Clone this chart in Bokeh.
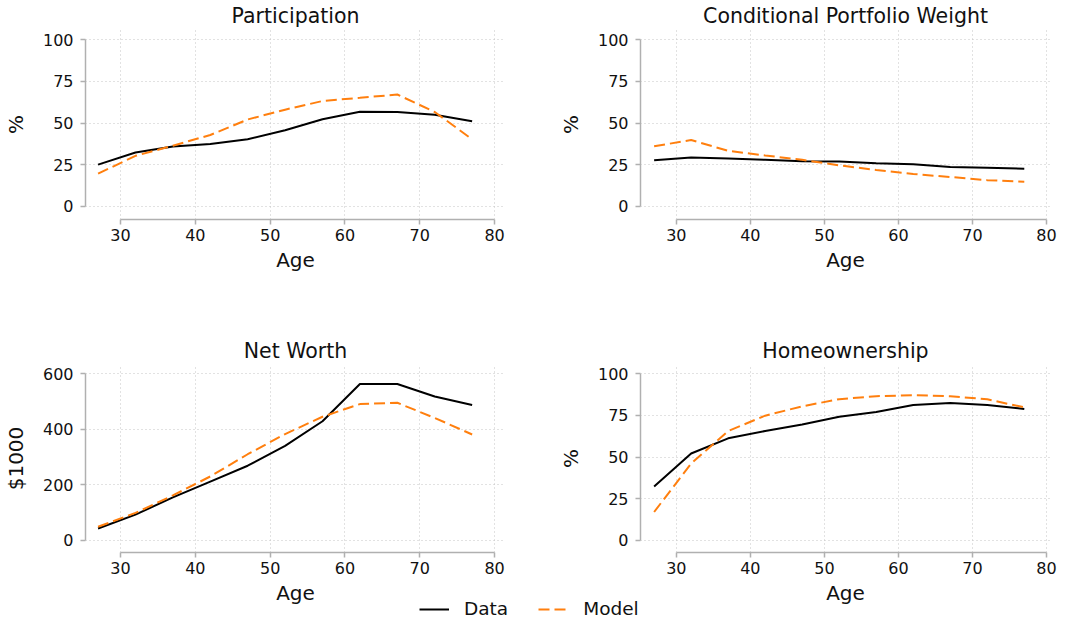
from bokeh.plotting import figure
from bokeh.layouts import column, row
from bokeh.models import Range1d, FixedTicker, Legend, LegendItem
from bokeh.embed import file_html
from bokeh.resources import INLINE

# ---------------- data ----------------
ages = [27, 32, 37, 42, 47, 52, 57, 62, 67, 72, 77]
x_ticks = [30, 40, 50, 60, 70, 80]

participation_data = [25.0, 32.3, 35.9, 37.4, 40.2, 45.7, 52.3, 56.8, 56.6, 55.0, 51.1]
participation_model = [19.6, 30.3, 36.4, 42.8, 52.1, 58.0, 63.2, 65.1, 67.1, 56.6, 40.2]

weight_data = [27.7, 29.3, 28.7, 27.9, 27.1, 26.9, 25.9, 25.3, 23.6, 23.2, 22.6]
weight_model = [36.0, 39.8, 33.3, 30.5, 27.9, 24.6, 21.8, 19.4, 17.6, 15.7, 14.7]

networth_data = [42.8, 92.6, 154.6, 211.6, 268.6, 339.9, 428.9, 562.9, 562.9, 518.0, 487.0]
networth_model = [48.8, 98.7, 161.7, 230.0, 310.0, 382.6, 445.0, 490.6, 495.2, 440.7, 381.2]

home_data = [32.3, 52.1, 61.2, 65.6, 69.5, 74.2, 77.0, 81.2, 82.4, 81.2, 78.8]
home_model = [17.0, 46.1, 65.6, 74.8, 80.4, 84.7, 86.5, 87.1, 86.5, 84.6, 79.8]

pct_ticks = [0, 25, 50, 75, 100]
nw_ticks = [0, 200, 400, 600]

FONT = "DejaVu Sans"
SPINE = "#b0b0b0"
ORANGE = "#ff7f0e"
TXT = "#111111"
DASH = "11 5"


def panel(title, ylabel, d, m, yticks, yr, xr, width, height, bl, br, bt, bb):
    p = figure(width=width, height=height, title=title,
               x_range=Range1d(*xr), y_range=Range1d(*yr),
               output_backend="svg", toolbar_location=None,
               min_border_left=bl, min_border_right=br,
               min_border_top=bt, min_border_bottom=bb)
    p.outline_line_color = None
    p.title.text_font = FONT
    p.title.text_font_size = "20.5px"
    p.title.text_font_style = "normal"
    p.title.text_color = TXT
    p.title.align = "center"
    p.title.standoff = 3

    p.line(ages, d, line_color="black", line_width=2)
    p.line(ages, m, line_color=ORANGE, line_width=2, line_dash=DASH)

    p.xaxis.ticker = FixedTicker(ticks=x_ticks)
    p.yaxis.ticker = FixedTicker(ticks=yticks)
    p.xaxis.bounds = (x_ticks[0], x_ticks[-1])
    p.yaxis.bounds = (yticks[0], yticks[-1])
    p.xaxis.axis_label = "Age"
    p.yaxis.axis_label = ylabel
    for ax in (p.xaxis, p.yaxis):
        ax.axis_line_color = SPINE
        ax.axis_line_width = 1.5
        ax.major_tick_line_color = SPINE
        ax.major_tick_line_width = 1.5
        ax.major_tick_out = 5
        ax.major_tick_in = 0
        ax.minor_tick_line_color = None
        ax.major_label_text_font = FONT
        ax.major_label_text_font_size = "16px"
        ax.major_label_text_color = TXT
        ax.axis_label_text_font = FONT
        ax.axis_label_text_font_size = "20px"
        ax.axis_label_text_font_style = "normal"
        ax.axis_label_text_color = TXT
    p.xaxis.major_label_standoff = 4
    p.yaxis.major_label_standoff = 7
    p.xaxis.axis_label_standoff = 4
    p.yaxis.axis_label_standoff = 12

    for g in (p.xgrid, p.ygrid):
        g.grid_line_color = "#c4c4c4"
        g.grid_line_dash = "1 3"
        g.grid_line_width = 1
    p.xgrid.ticker = FixedTicker(ticks=x_ticks)
    p.ygrid.ticker = FixedTicker(ticks=yticks)
    return p


W1, W2 = 555, 502
H1, H2, HL = 335, 272, 22
xr_left = (25.32, 81.46)
xr_right = (25.16, 80.54)

p1 = panel("Participation", "%", participation_data, participation_model,
           pct_ticks, (-7.9, 106.1), xr_left, W1, H1, 80, 50, 27, 116)
p2 = panel("Conditional Portfolio Weight", "%", weight_data, weight_model,
           pct_ticks, (-7.9, 106.1), xr_right, W2, H1, 80, 7, 27, 116)
p3 = panel("Net Worth", "$1000", networth_data, networth_model,
           nw_ticks, (-43.8, 633.1), xr_left, W1, H2, 80, 50, 27, 55)
p4 = panel("Homeownership", "%", home_data, home_model,
           pct_ticks, (-7.3, 105.5), xr_right, W2, H2, 80, 7, 27, 55)

# ---------------- shared legend strip (overlaps the empty band under the bottom row) ----------------
lf = figure(width=W1 + W2, height=HL, x_range=Range1d(0, 1), y_range=Range1d(0, 1),
            output_backend="svg", toolbar_location=None, min_border=0,
            margin=(-10, 0, 0, 0))
lf.axis.visible = False
lf.grid.visible = False
lf.outline_line_color = None
lf.background_fill_alpha = 0
lf.border_fill_alpha = 0
# legend proxies (their points fall outside this strip's ranges, only the key shows)
r_data = lf.line(ages, participation_data, line_color="black", line_width=2)
r_model = lf.line(ages, participation_model, line_color=ORANGE, line_width=2, line_dash=DASH)
leg = Legend(items=[LegendItem(label="Data", renderers=[r_data]),
                    LegendItem(label="Model", renderers=[r_model])],
             location=(419, 0), orientation="horizontal")
leg.border_line_color = None
leg.background_fill_alpha = 0
leg.margin = 0
leg.padding = 0
leg.glyph_width = 30
leg.glyph_height = 20
leg.label_height = 20
leg.label_standoff = 15
leg.spacing = 30
leg.label_text_font = FONT
leg.label_text_font_size = "18.5px"
leg.label_text_color = TXT
lf.add_layout(leg, "center")

layout = column(row(p1, p2), row(p3, p4), lf)

open("out.html", "w").write(file_html(layout, INLINE))
